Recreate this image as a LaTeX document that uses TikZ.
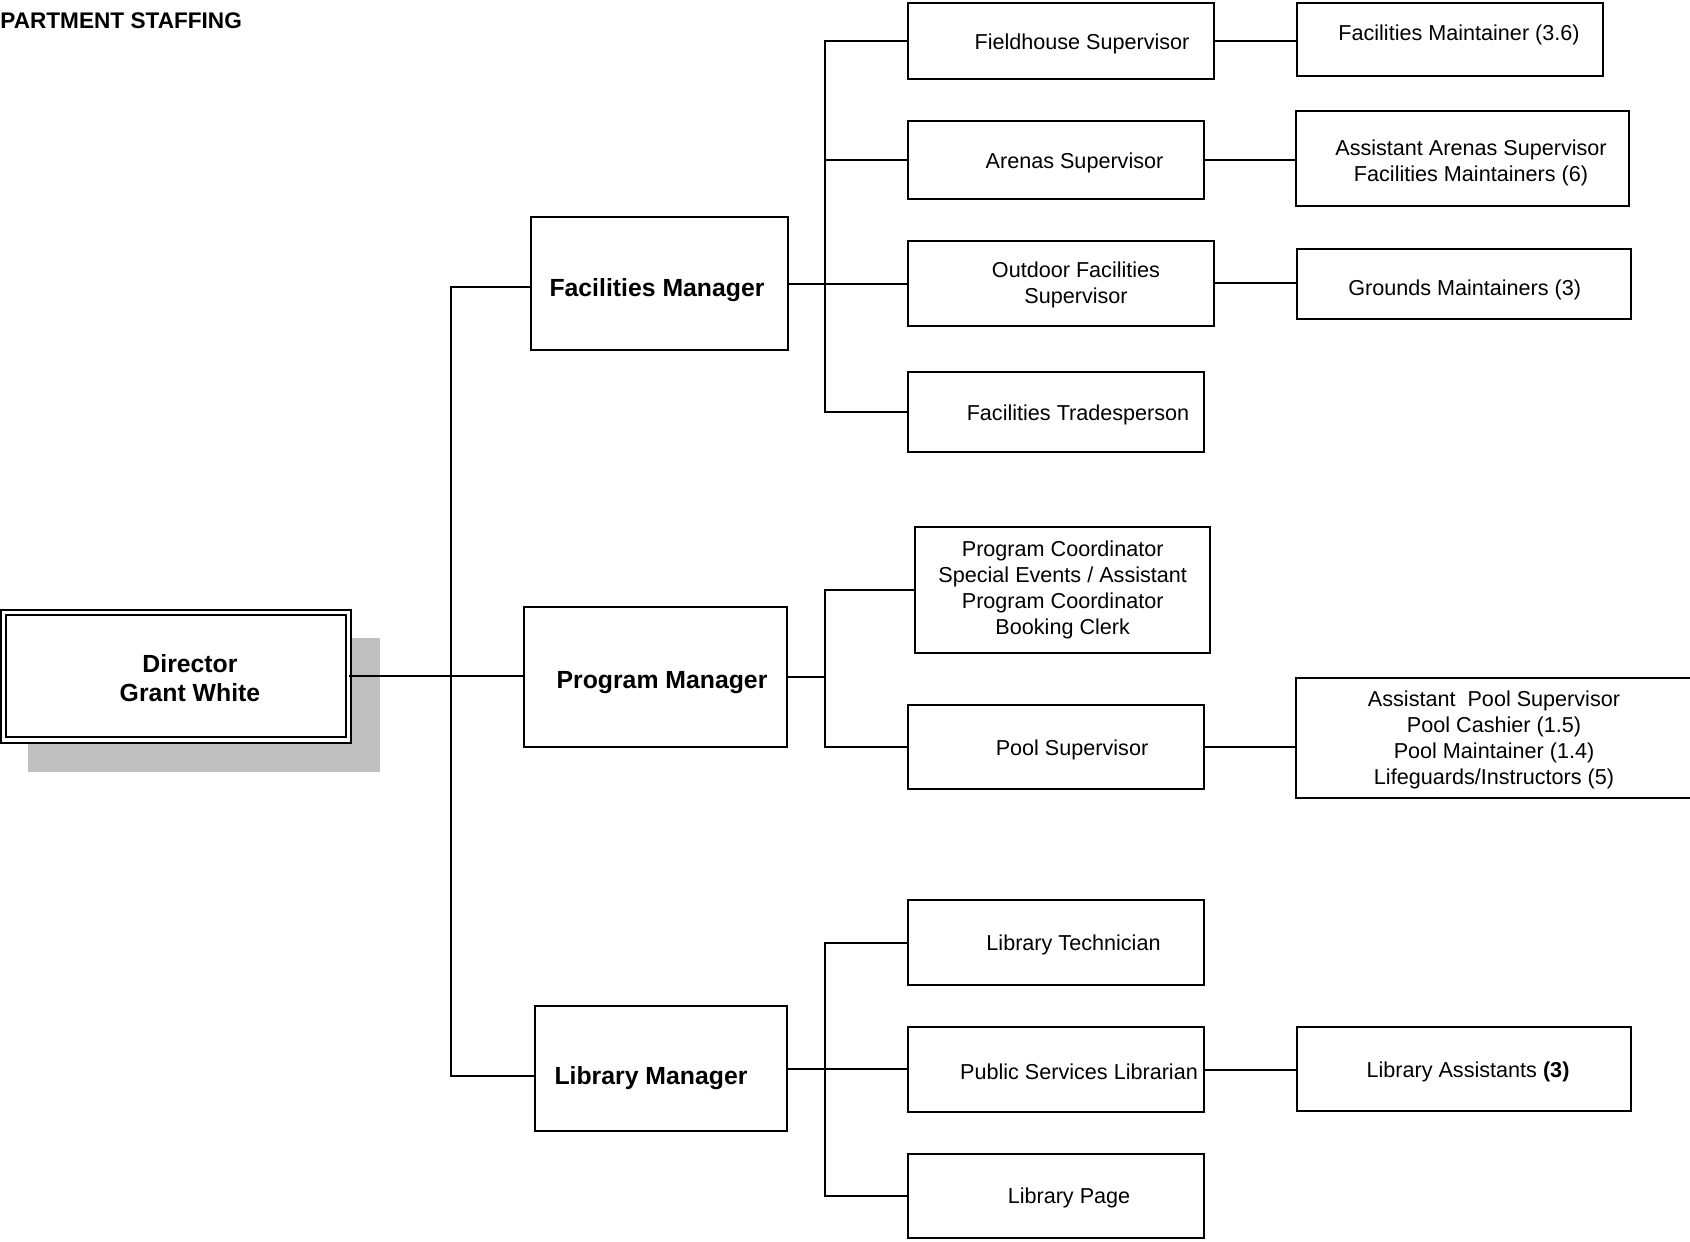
\documentclass[tikz,border=0pt]{standalone}
\usepackage{fontspec}
\setmainfont{Liberation Sans}
\tikzset{
 box/.style={draw, line width=1pt, rectangle, inner sep=0pt, outer sep=0pt, fill=white},
 lbl/.style={inner sep=0pt, align=center, yshift=-1.5pt, font=\fontsize{10.8}{13}\selectfont},
 blbl/.style={inner sep=0pt, align=center, yshift=-1.5pt, font=\fontsize{12.4}{14.5}\selectfont\bfseries},
 conn/.style={line width=1pt},
}
\newcommand\OrgBox[8]{%
 \pgfmathsetmacro\OBw{(#4-#2)*0.5}%
 \pgfmathsetmacro\OBh{(#5-#3)*0.5}%
 \node[box, minimum width=\OBw pt, minimum height=\OBh pt] (#1) at ({(#2+#4)/2},{(#3+#5)/2}) {};%
 \node[#6] (#1t) at (#7) {#8};%
}
\begin{document}
\begin{tikzpicture}[x=0.5pt, y=-0.5pt]
\path[use as bounding box, clip] (0,0) rectangle (1690,1241);
\node[anchor=base west, inner sep=0pt, font=\fontsize{11.3}{13}\selectfont\bfseries] (title) at (0,29) {PARTMENT STAFFING};

% director
\fill[black!25] (28,638) rectangle (380,772);
\node[box, double, double distance=1.75pt, minimum width=172.5pt, minimum height=63.7pt] (DIR) at (176.2,676.4) {};
\node[blbl] (DIRt) at (190,675.5) {Director\\Grant White};

\OrgBox{FM}{531}{217}{788}{350}{blbl}{657,287}{Facilities Manager}
\OrgBox{PM}{524}{607}{787}{747}{blbl}{662,680}{Program Manager}
\OrgBox{LM}{535}{1006}{787}{1131}{blbl}{651,1075}{Library Manager}
\OrgBox{FS}{907.5}{3.2}{1213.6}{78.7}{lbl}{1082,41}{Fieldhouse Supervisor}
\OrgBox{AS}{907.5}{120.7}{1204}{199.4}{lbl}{1074.5,159.5}{Arenas Supervisor}
\OrgBox{OF}{907.5}{241.4}{1213.6}{325.5}{lbl}{1076,282.4}{Outdoor Facilities\\Supervisor}
\OrgBox{FT}{907.5}{371.8}{1204}{451.6}{lbl}{1078,411.7}{Facilities Tradesperson}
\OrgBox{FMA}{1296.6}{3.2}{1602.7}{76.5}{lbl}{1459,32.3}{Facilities Maintainer (3.6)}
\OrgBox{AAS}{1295.5}{111}{1628.6}{205.9}{lbl}{1471,159.5}{Assistant Arenas Supervisor\\Facilities Maintainers (6)}
\OrgBox{GM}{1296.6}{249}{1630.7}{319}{lbl}{1464.7,286.7}{Grounds Maintainers (3)}
\OrgBox{PC}{915}{527}{1210.4}{653}{lbl}{1062.7,587.4}{Program Coordinator\\Special Events / Assistant\\Program Coordinator\\Booking Clerk}
\OrgBox{PS}{907.5}{705}{1204}{789}{lbl}{1072,747}{Pool Supervisor}
\OrgBox{PO}{1295.5}{678}{1720}{797.6}{lbl}{1494,737.2}{Assistant\ \ Pool Supervisor\\Pool Cashier (1.5)\\Pool Maintainer (1.4)\\Lifeguards/Instructors (5)}
\OrgBox{LT}{907.5}{900}{1204}{985}{lbl}{1073.5,942}{Library Technician}
\OrgBox{PL}{907.5}{1027}{1204}{1112}{lbl}{1079,1069}{Public Services Librarian}
\OrgBox{LP}{907.5}{1154}{1204}{1238}{lbl}{1069,1195}{Library Page}
\OrgBox{LA}{1296.6}{1027}{1630.7}{1111}{lbl}{1468,1069}{Library Assistants \textbf{(3)}}

% connectors
\coordinate (dbus) at (450.5,0);
\coordinate (fbus) at (824.5,0);
\coordinate (FMin) at ([yshift=-1.75pt]FM.west);
\coordinate (LMin) at ([yshift=-3.5pt]LM.west);
\draw[conn] (DIR.east) -- (DIR.east -| PM.west);
\draw[conn] (FMin) -- (dbus |- FMin) -- (dbus |- LMin) -- (LMin);

\draw[conn] (FM.east) -- (FM.east -| OF.west);
\draw[conn] (FS.west) -- (fbus |- FS.west) -- (fbus |- FT.west) -- (FT.west);
\draw[conn] (fbus |- AS.west) -- (AS.west);
\draw[conn] (FS.east) -- (FS.east -| FMA.west);
\draw[conn] (AS.east) -- (AS.east -| AAS.west);
\draw[conn] (OF.east) -- (OF.east -| GM.west);

\draw[conn] (PM.east) -- (fbus |- PM.east);
\draw[conn] (PC.west) -- (fbus |- PC.west) -- (fbus |- PS.west) -- (PS.west);
\draw[conn] (PS.east) -- (PS.east -| PO.west);

\draw[conn] (LM.east) -- (LM.east -| PL.west);
\draw[conn] (LT.west) -- (fbus |- LT.west) -- (fbus |- LP.west) -- (LP.west);
\draw[conn] (PL.east) -- (PL.east -| LA.west);
\end{tikzpicture}
\end{document}
